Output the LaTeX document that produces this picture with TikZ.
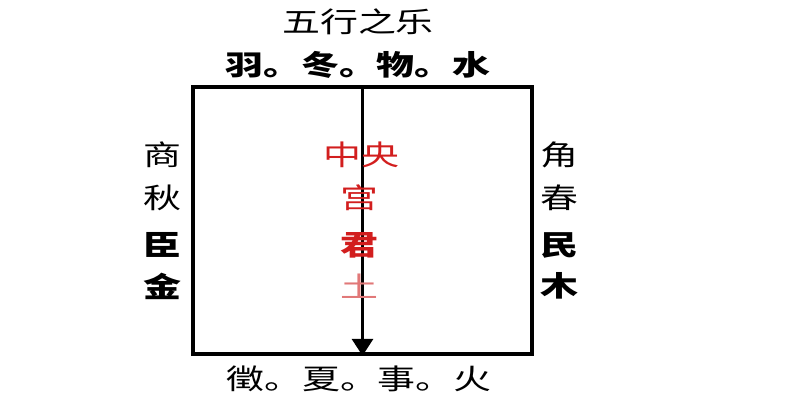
\documentclass[tikz,border=0pt]{standalone}
\usepackage{fontspec}
\newfontfamily\cjk[FakeStretch=1.35]{Noto Sans CJK SC}
\usetikzlibrary{arrows.meta}
\definecolor{gongred}{RGB}{210,30,30}
\definecolor{fadedred}{RGB}{225,120,120}

\begin{document}
\begin{tikzpicture}[
    hanzi/.style={font={\cjk\fontsize{8pt}{8pt}\selectfont}, inner sep=0pt},
    hanzib/.style={font={\cjk\bfseries\fontsize{8pt}{8pt}\selectfont}, inner sep=0pt},
    palace/.style={draw, line width=1pt, inner sep=0pt, minimum width=3.39cm, minimum height=2.67cm},
    axis/.style={line width=1pt, -{Triangle[length=0.17cm,width=0.21cm]}}
]
    \useasboundingbox (0,0) rectangle (8,4);

    % Title and the two rows
    \node[hanzi] (title) at (3.58, 3.78) {五行之乐};
    \node[hanzib] (north) at (3.58, 3.35) {羽。冬。物。水};
    \node[hanzi] (south) at (3.59, 0.21) {徵。夏。事。火};

    % Square and axis
    \node[palace] (box) at (3.625, 1.795) {};
    \draw[axis] (box.north) -- (box.south);

    % West side
    \node[hanzi] (shang) at (1.62, 2.45) {商};
    \node[hanzi] (qiu) at (1.62, 2.02) {秋};
    \node[hanzib] (chen) at (1.62, 1.55) {臣};
    \node[hanzib] (jin) at (1.62, 1.14) {金};

    % East side
    \node[hanzi] (jiao) at (5.59, 2.45) {角};
    \node[hanzi] (chun) at (5.59, 2.02) {春};
    \node[hanzib] (min) at (5.59, 1.55) {民};
    \node[hanzib] (mu) at (5.59, 1.14) {木};

    % Centre
    \node[hanzi, text=gongred] (zhongyang) at (3.61, 2.45) {中央};
    \node[hanzi, text=gongred] (gong) at (3.59, 2.02) {宫};
    \node[hanzib, text=gongred] (jun) at (3.59, 1.55) {君};
    \node[hanzi, text=fadedred] (tu) at (3.59, 1.14) {土};
\end{tikzpicture}
\end{document}
